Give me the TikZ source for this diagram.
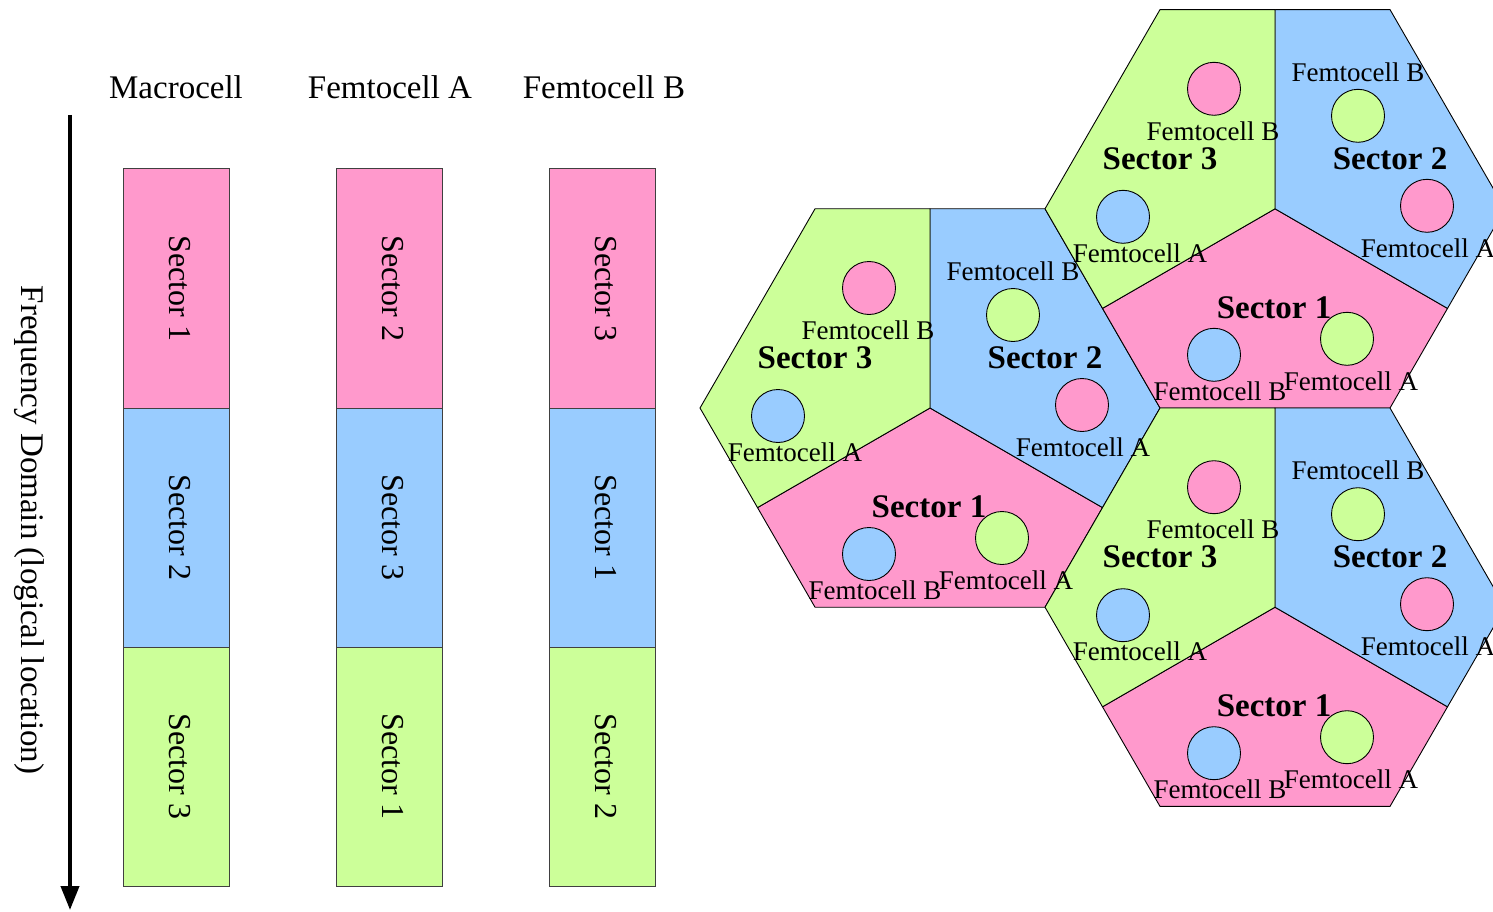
\documentclass[tikz,border=0pt]{standalone}
\usepackage{fontspec}
\setmainfont{Liberation Serif}
\usetikzlibrary{arrows.meta}
\definecolor{secpink}{RGB}{255,153,204}
\definecolor{secblue}{RGB}{153,204,255}
\definecolor{secgreen}{RGB}{204,255,153}

\begin{document}
\begin{tikzpicture}[x=1pt,y=-1pt,
  heading/.style={anchor=base,font=\fontsize{33}{40}\selectfont},
  band/.style={draw=black!75,line width=1pt,rotate=-90,minimum width=239pt,minimum height=106pt,inner sep=0pt,text depth=8pt,font=\fontsize{32}{38}\selectfont},
  sector/.style={draw=black,line width=0.9pt},
  femto/.style={circle,draw=black,line width=0.9pt,minimum size=53pt,inner sep=0pt},
  flabel/.style={inner sep=0pt,font=\fontsize{27}{32}\selectfont},
  slabel/.style={inner sep=0pt,font=\fontsize{33}{40}\selectfont\bfseries}]
\useasboundingbox (0,0) rectangle (1493,912);
\clip (0,0) rectangle (1493,912);

% frequency axis
\coordinate (ftop) at (70,115);
\coordinate (fbot) at (70,910);
\draw[line width=4pt,-{Triangle[length=24pt,width=18pt]}] (ftop) -- (fbot);
\node[rotate=-90,font=\fontsize{33}{40}\selectfont] (freq) at (29,530) {Frequency Domain (logical location)};

% band allocation per cell
\node[heading] (hm) at (176,99) {Macrocell};
\node[heading] (ha) at (390,99) {Femtocell A};
\node[heading] (hb) at (604,99) {Femtocell B};
\foreach \c/\x/\p/\q/\r in {m/176/1/2/3, a/389/2/3/1, b/602/3/1/2}{
  \node[band,fill=secpink] (\c1) at (\x,288.5) {Sector \p};
  \node[band,fill=secblue] (\c2) at (\x,527.5) {Sector \q};
  \node[band,fill=secgreen] (\c3) at (\x,766.5) {Sector \r};
}

% three-sector hexagons
\foreach \h/\cx/\cy in {1/930/408, 2/1275/208.8, 3/1275/607.2}{
  \begin{scope}[shift={(\cx,\cy)}]
    \filldraw[sector,fill=secpink] (0,0) -- (-172.5,99.6) -- (-115,199.2) -- (115,199.2) -- (172.5,99.6) -- cycle;
    \filldraw[sector,fill=secblue] (0,0) -- (0,-199.2) -- (115,-199.2) -- (230,0) -- (172.5,99.6) -- cycle;
    \filldraw[sector,fill=secgreen] (0,0) -- (0,-199.2) -- (-115,-199.2) -- (-230,0) -- (-172.5,99.6) -- cycle;
  \end{scope}
}
\foreach \h/\cx/\cy in {1/930/408, 2/1275/208.8, 3/1275/607.2}{
  \begin{scope}[shift={(\cx,\cy)}]
    \node[femto,fill=secpink] (c3b-\h) at (-61,-120) {};
    \node[flabel] (l3b-\h) at (-62,-78) {Femtocell B};
    \node[femto,fill=secblue] (c3a-\h) at (-152,8) {};
    \node[flabel] (l3a-\h) at (-135,44) {Femtocell A};
    \node[slabel] (s3-\h) at (-115,-50) {Sector 3};
    \node[flabel] (l2b-\h) at (83,-137) {Femtocell B};
    \node[femto,fill=secgreen] (c2b-\h) at (83,-93) {};
    \node[slabel] (s2-\h) at (115,-50) {Sector 2};
    \node[femto,fill=secpink] (c2a-\h) at (152,-3) {};
    \node[flabel] (l2a-\h) at (153,39) {Femtocell A};
    \node[femto,fill=secblue] (c1b-\h) at (-61,146) {};
    \node[flabel] (l1b-\h) at (-55,182) {Femtocell B};
    \node[femto,fill=secgreen] (c1a-\h) at (72,130) {};
    \node[flabel] (l1a-\h) at (76,172) {Femtocell A};
    \node[slabel] (s1-\h) at (-1,99) {Sector 1};
  \end{scope}
}
\end{tikzpicture}
\end{document}
